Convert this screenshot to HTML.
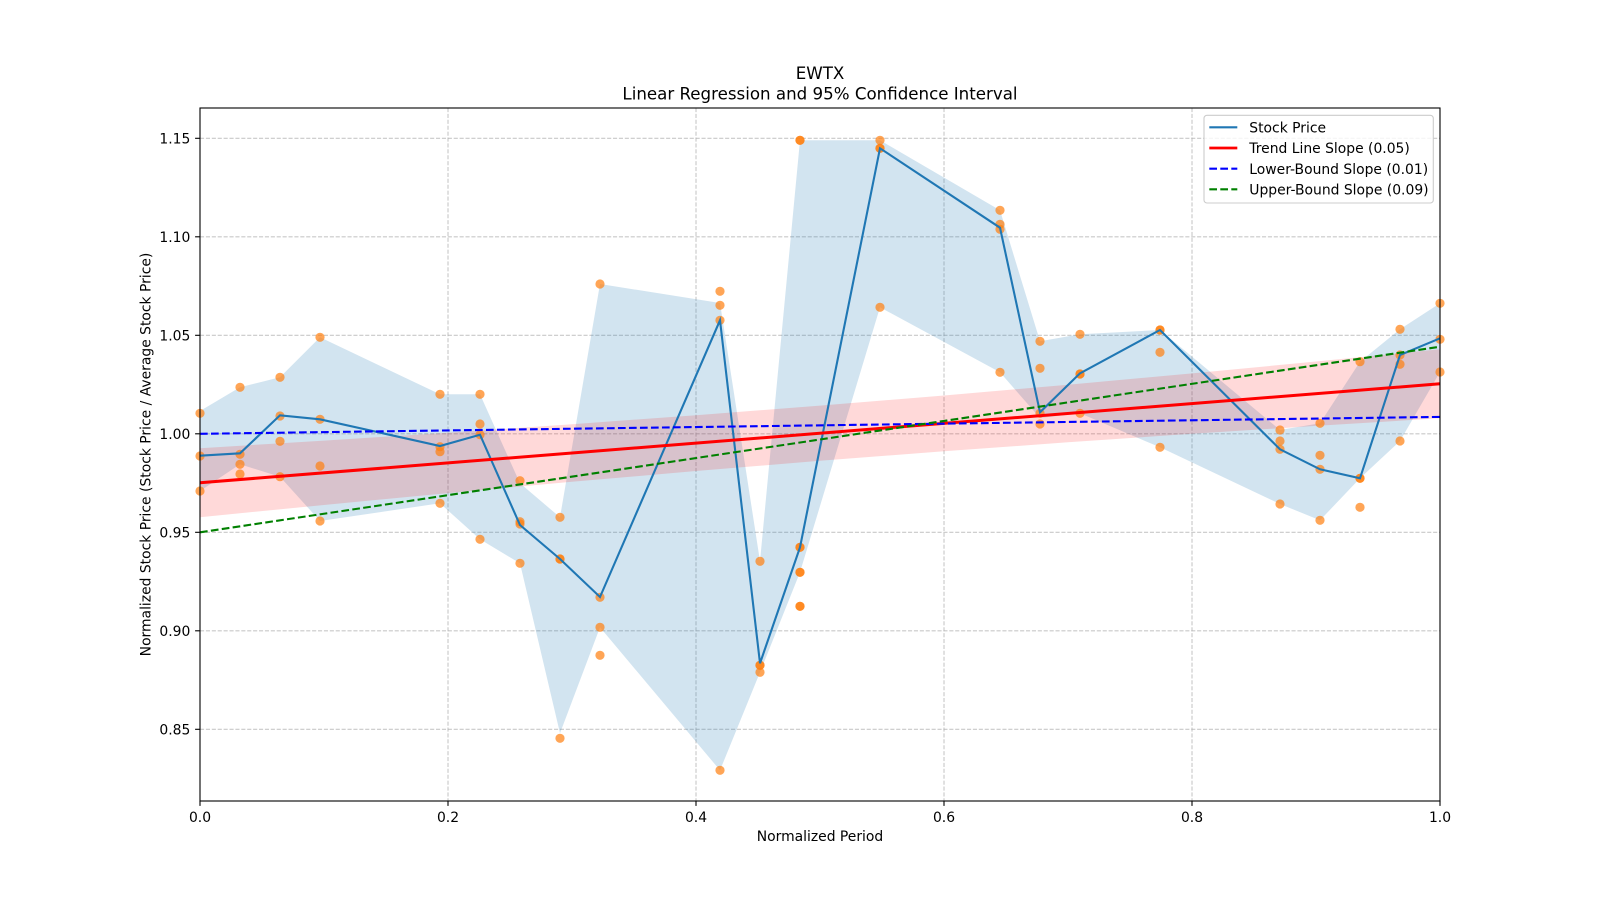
<!DOCTYPE html>
<html>
<head>
<meta charset="utf-8">
<style>
  html, body { margin: 0; padding: 0; background: #ffffff; }
  svg { display: block; }
  text { font-family: "DejaVu Sans", "Liberation Sans", sans-serif; fill: #000; }
</style>
</head>
<body>
<svg width="1600" height="900" viewBox="0 0 1600 900" xmlns="http://www.w3.org/2000/svg">
  <rect x="0" y="0" width="1600" height="900" fill="#ffffff"/>

  <!-- grid -->
  <g stroke="#b0b0b0" stroke-opacity="0.7" stroke-width="1.1" stroke-dasharray="4.1,1.8" fill="none">
    <line x1="448" y1="108" x2="448" y2="801"/>
    <line x1="696" y1="108" x2="696" y2="801"/>
    <line x1="944" y1="108" x2="944" y2="801"/>
    <line x1="1192" y1="108" x2="1192" y2="801"/>
    <line x1="200" y1="138.3" x2="1440" y2="138.3"/>
    <line x1="200" y1="236.8" x2="1440" y2="236.8"/>
    <line x1="200" y1="335.3" x2="1440" y2="335.3"/>
    <line x1="200" y1="433.8" x2="1440" y2="433.8"/>
    <line x1="200" y1="532.3" x2="1440" y2="532.3"/>
    <line x1="200" y1="630.8" x2="1440" y2="630.8"/>
    <line x1="200" y1="729.3" x2="1440" y2="729.3"/>
  </g>

  <!-- blue min/max fill -->
  <polygon fill="#1f77b4" fill-opacity="0.2" points="
    200,411 240,387.3 280,377.3 320,337.3 440,394.3 480,394.3 520,483.3 560,517.3 600,284 720,303 760,561.3 800,140.3 880,140.3 1000,210.3 1040,341.3 1080,334.3 1160,330 1280,430 1320,423.3 1360,361.7 1400,329.3 1440,303.3
    1440,372 1400,441 1360,478.3 1320,520.3 1280,504 1160,447.3 1080,413.3 1040,418 1000,372.3 880,307.3 800,572.3 760,672.3 720,770.3 600,627.3 560,733.3 520,563.3 480,539.3 440,503.3 320,521 280,476.7 240,464.3 200,491"/>

  <!-- pink confidence band -->
  <polygon fill="#ff0000" fill-opacity="0.15" points="
    200,448.2 324,440.6 448,432.7 572,424.2 696,415.2 820,405.6 944,395.5 1068,384.7 1192,373.4 1316,361.5 1440,349.3
    1440,418.3 1316,425.9 1192,433.8 1068,442.3 944,451.3 820,460.8 696,471 572,481.8 448,493.1 324,505 200,517.2"/>

  <!-- scatter points -->
  <g fill="#ff7f0e" fill-opacity="0.7">
    <circle cx="200" cy="413.3" r="4.6"/><circle cx="200" cy="456" r="4.6"/><circle cx="200" cy="491" r="4.6"/>
    <circle cx="240" cy="387.3" r="4.6"/><circle cx="240" cy="454.3" r="4.6"/><circle cx="240" cy="464.3" r="4.6"/><circle cx="240" cy="474" r="4.6"/>
    <circle cx="280" cy="377.3" r="4.6"/><circle cx="280" cy="416" r="4.6"/><circle cx="280" cy="441.3" r="4.6"/><circle cx="280" cy="476.7" r="4.6"/>
    <circle cx="320" cy="337.3" r="4.6"/><circle cx="320" cy="419.3" r="4.6"/><circle cx="320" cy="466" r="4.6"/><circle cx="320" cy="521" r="4.6"/>
    <circle cx="440" cy="394.3" r="4.6"/><circle cx="440" cy="446.7" r="4.6"/><circle cx="440" cy="451.7" r="4.6"/><circle cx="440" cy="503.3" r="4.6"/>
    <circle cx="480" cy="394.3" r="4.6"/><circle cx="480" cy="424" r="4.6"/><circle cx="480" cy="434.7" r="4.6"/><circle cx="480" cy="539.3" r="4.6"/>
    <circle cx="520" cy="480.7" r="4.6"/><circle cx="520" cy="521.7" r="4.6"/><circle cx="520" cy="524" r="4.6"/><circle cx="520" cy="563.3" r="4.6"/>
    <circle cx="560" cy="517.3" r="4.6"/><circle cx="560" cy="559" r="4.6"/><circle cx="560" cy="559" r="4.6"/><circle cx="560" cy="738.3" r="4.6"/>
    <circle cx="600" cy="284" r="4.6"/><circle cx="600" cy="597.3" r="4.6"/><circle cx="600" cy="627.3" r="4.6"/><circle cx="600" cy="655.3" r="4.6"/>
    <circle cx="720" cy="291.3" r="4.6"/><circle cx="720" cy="305.3" r="4.6"/><circle cx="720" cy="320.3" r="4.6"/><circle cx="720" cy="770.3" r="4.6"/>
    <circle cx="760" cy="561.3" r="4.6"/><circle cx="760" cy="665.3" r="4.6"/><circle cx="760" cy="665.3" r="4.6"/><circle cx="760" cy="672.3" r="4.6"/>
    <circle cx="800" cy="140.3" r="4.6"/><circle cx="800" cy="140.3" r="4.6"/>
    <circle cx="800" cy="547.3" r="4.6"/><circle cx="800" cy="547.3" r="4.6"/>
    <circle cx="800" cy="572.3" r="4.6"/><circle cx="800" cy="572.3" r="4.6"/>
    <circle cx="800" cy="606.3" r="4.6"/><circle cx="800" cy="606.3" r="4.6"/>
    <circle cx="880" cy="140.3" r="4.6"/><circle cx="880" cy="148.3" r="4.6"/><circle cx="880" cy="148.3" r="4.6"/><circle cx="880" cy="307.3" r="4.6"/>
    <circle cx="1000" cy="210.3" r="4.6"/><circle cx="1000" cy="224.3" r="4.6"/><circle cx="1000" cy="229.3" r="4.6"/><circle cx="1000" cy="372.3" r="4.6"/>
    <circle cx="1040" cy="341.3" r="4.6"/><circle cx="1040" cy="368.3" r="4.6"/><circle cx="1040" cy="413.3" r="4.6"/><circle cx="1040" cy="424" r="4.6"/>
    <circle cx="1080" cy="334.3" r="4.6"/><circle cx="1080" cy="374" r="4.6"/><circle cx="1080" cy="374" r="4.6"/><circle cx="1080" cy="413.3" r="4.6"/>
    <circle cx="1160" cy="330" r="4.6"/><circle cx="1160" cy="330" r="4.6"/><circle cx="1160" cy="352.3" r="4.6"/><circle cx="1160" cy="447.3" r="4.6"/>
    <circle cx="1280" cy="430" r="4.6"/><circle cx="1280" cy="441" r="4.6"/><circle cx="1280" cy="449.3" r="4.6"/><circle cx="1280" cy="504" r="4.6"/>
    <circle cx="1320" cy="423.3" r="4.6"/><circle cx="1320" cy="455.3" r="4.6"/><circle cx="1320" cy="469.3" r="4.6"/><circle cx="1320" cy="520.3" r="4.6"/>
    <circle cx="1360" cy="361.7" r="4.6"/><circle cx="1360" cy="478.3" r="4.6"/><circle cx="1360" cy="478.3" r="4.6"/><circle cx="1360" cy="507.3" r="4.6"/>
    <circle cx="1400" cy="329.3" r="4.6"/><circle cx="1400" cy="355" r="4.6"/><circle cx="1400" cy="364.3" r="4.6"/><circle cx="1400" cy="441" r="4.6"/>
    <circle cx="1440" cy="303.3" r="4.6"/><circle cx="1440" cy="339.3" r="4.6"/><circle cx="1440" cy="372" r="4.6"/>
  </g>

  <!-- stock price line -->
  <polyline fill="none" stroke="#1f77b4" stroke-width="2.1" stroke-linejoin="miter" points="
    200,455.7 240,453.3 280,415.3 320,419.3 440,446 480,434.7 520,525 560,559 600,597 720,320.3 760,663.3 800,547.3 880,148.3 1000,227.7 1040,412.3 1080,373.3 1160,330 1280,449.3 1320,469.3 1360,478.3 1400,355 1440,338.3"/>

  <!-- trend lines -->
  <line x1="200" y1="482.7" x2="1440" y2="383.8" stroke="#ff0000" stroke-width="3"/>
  <line x1="200" y1="433.8" x2="1440" y2="416.9" stroke="#0000ff" stroke-width="2.1" stroke-dasharray="7.7,3.3"/>
  <line x1="200" y1="532.3" x2="1440" y2="346.7" stroke="#008000" stroke-width="2.1" stroke-dasharray="7.7,3.3"/>

  <!-- axes spines -->
  <rect x="200" y="108" width="1240" height="693" fill="none" stroke="#000" stroke-width="1.1"/>

  <!-- ticks -->
  <g stroke="#000" stroke-width="1.1">
    <line x1="200" y1="801" x2="200" y2="805.9"/>
    <line x1="448" y1="801" x2="448" y2="805.9"/>
    <line x1="696" y1="801" x2="696" y2="805.9"/>
    <line x1="944" y1="801" x2="944" y2="805.9"/>
    <line x1="1192" y1="801" x2="1192" y2="805.9"/>
    <line x1="1440" y1="801" x2="1440" y2="805.9"/>
    <line x1="195.1" y1="138.3" x2="200" y2="138.3"/>
    <line x1="195.1" y1="236.8" x2="200" y2="236.8"/>
    <line x1="195.1" y1="335.3" x2="200" y2="335.3"/>
    <line x1="195.1" y1="433.8" x2="200" y2="433.8"/>
    <line x1="195.1" y1="532.3" x2="200" y2="532.3"/>
    <line x1="195.1" y1="630.8" x2="200" y2="630.8"/>
    <line x1="195.1" y1="729.3" x2="200" y2="729.3"/>
  </g>

  <!-- tick labels -->
  <g font-size="13.9" text-anchor="middle">
    <text x="200" y="822">0.0</text>
    <text x="448" y="822">0.2</text>
    <text x="696" y="822">0.4</text>
    <text x="944" y="822">0.6</text>
    <text x="1192" y="822">0.8</text>
    <text x="1440" y="822">1.0</text>
  </g>
  <g font-size="13.9" text-anchor="end">
    <text x="190.3" y="143.3">1.15</text>
    <text x="190.3" y="241.8">1.10</text>
    <text x="190.3" y="340.3">1.05</text>
    <text x="190.3" y="438.8">1.00</text>
    <text x="190.3" y="537.3">0.95</text>
    <text x="190.3" y="635.8">0.90</text>
    <text x="190.3" y="734.3">0.85</text>
  </g>

  <!-- axis labels -->
  <text x="820" y="841" font-size="13.9" text-anchor="middle">Normalized Period</text>
  <text transform="translate(150.7,454.5) rotate(-90)" font-size="13.9" text-anchor="middle">Normalized Stock Price (Stock Price / Average Stock Price)</text>

  <!-- title -->
  <text x="820" y="79" font-size="16.67" text-anchor="middle">EWTX</text>
  <text x="820" y="99.5" font-size="16.67" text-anchor="middle">Linear Regression and 95% Confidence Interval</text>

  <!-- legend -->
  <rect x="1204" y="115.3" width="229.3" height="87.7" rx="3" ry="3" fill="#ffffff" fill-opacity="0.8" stroke="#cccccc" stroke-width="1.1"/>
  <line x1="1209.3" y1="127.3" x2="1237.3" y2="127.3" stroke="#1f77b4" stroke-width="2.1"/>
  <line x1="1209.3" y1="148" x2="1237.3" y2="148" stroke="#ff0000" stroke-width="2.8"/>
  <line x1="1209.3" y1="168.7" x2="1237.3" y2="168.7" stroke="#0000ff" stroke-width="2.1" stroke-dasharray="7.7,3.3"/>
  <line x1="1209.3" y1="189.3" x2="1237.3" y2="189.3" stroke="#008000" stroke-width="2.1" stroke-dasharray="7.7,3.3"/>
  <g font-size="13.9">
    <text x="1249.3" y="132.5">Stock Price</text>
    <text x="1249.3" y="153.2">Trend Line Slope (0.05)</text>
    <text x="1249.3" y="173.9">Lower-Bound Slope (0.01)</text>
    <text x="1249.3" y="194.5">Upper-Bound Slope (0.09)</text>
  </g>
</svg>
</body>
</html>
